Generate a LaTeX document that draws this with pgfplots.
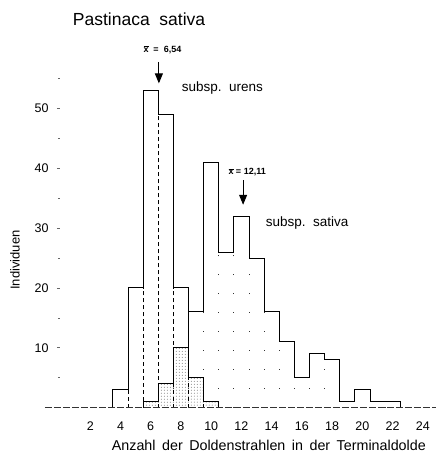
\documentclass[border=0pt]{standalone}
\usepackage{fontspec}
\setmainfont{Liberation Sans}
\usepackage{pgfplots}
\usepackage{pgfplotstable}
\pgfplotsset{compat=1.18}
\usetikzlibrary{patterns,arrows.meta}

% left bin edge, count (const plot mark left)
\pgfplotstableread{
x y
3.5 0
3.5 3
4.5 20
5.5 53
6.5 49
7.5 20
8.5 5
9.5 1
10.5 1
10.5 0
}\urens

\pgfplotstableread{
x y
5.5 0
5.5 1
6.5 4
7.5 10
8.5 16
9.5 41
10.5 26
11.5 32
12.5 25
13.5 16
14.5 11
15.5 5
16.5 9
17.5 8
18.5 1
19.5 3
20.5 1
21.5 1
22.5 1
22.5 0
}\sativa

% overlap of both distributions
\pgfplotstableread{
x y
5.5 0
5.5 1
6.5 4
7.5 10
8.5 5
9.5 1
10.5 1
10.5 0
}\overlap

% inner bin edges
\pgfplotstableread{
x y
4.5 3
5.5 20
6.5 49
7.5 20
8.5 5
9.5 1
}\urensin

\pgfplotstableread{
x y
6.5 1
7.5 4
8.5 10
9.5 16
10.5 26
11.5 26
12.5 25
13.5 16
14.5 11
15.5 5
16.5 5
17.5 8
18.5 1
19.5 1
20.5 1
21.5 1
}\sativain

\newcommand\ws{\hspace{6.5bp}}

\begin{document}
\begin{tikzpicture}
\useasboundingbox (-60bp,-48.5bp) rectangle (379bp,407.5bp);
\begin{axis}[
  scale only axis,
  width=378bp, height=328.9bp,
  xmin=0, xmax=25, ymin=0, ymax=55,
  clip=false,
  axis line style={draw=none},
  xtick={2,4,...,24},
  ytick={10,20,...,50},
  minor ytick={5,15,...,55},
  ytick pos=left,
  x tick style={draw=none},
  y tick style={black!60, line width=0.5bp},
  major tick length=3bp, minor tick length=2bp,
  tick align=outside,
  xticklabel style={anchor=base, inner sep=0pt, yshift=-19.5bp},
  yticklabel style={xshift=-5bp},
  tick label style={font=\fontsize{12.5bp}{14bp}\selectfont},
  /pgf/number format/assume math mode=true,
]
\addplot[draw=none, pattern=dots, pattern color=black!55, const plot mark left] table {\overlap};
\addplot[ycomb, black, dash pattern=on 4bp off 3bp, line width=0.6bp] table {\urensin};
\addplot[ycomb, black!80, dash pattern=on 0.9bp off 18bp, line width=1bp] table {\sativain};
\addplot[const plot mark left, black, line width=0.9bp] table {\urens};
\addplot[const plot mark left, black, line width=0.9bp] table {\sativa};
\draw[black!80, dash pattern=on 7bp off 2bp, line width=0.6bp] (axis cs:-1,0) -- (axis cs:24.9,0);
\draw[-{Triangle[length=10bp,width=8bp]}, line width=1bp] (axis cs:6.54,57.8) -- (axis cs:6.54,54.2);
\draw[-{Triangle[length=10bp,width=8bp]}, line width=1bp] (axis cs:12.11,38.0) -- (axis cs:12.11,33.9);
\end{axis}
\node[anchor=base west, inner sep=0, font=\fontsize{17.5bp}{20bp}\selectfont] at (12.7bp,381.5bp) {Pastinaca\ \ sativa};
\node[anchor=base west, inner sep=0, font=\fontsize{9bp}{10bp}\selectfont\bfseries] at (83.3bp,354.8bp) {$\overline{\mbox{x}}$\ \ =\ \ 6,54};
\node[anchor=base west, inner sep=0, font=\fontsize{13.5bp}{16bp}\selectfont] at (121.7bp,315.5bp) {subsp.\ \ urens};
\node[anchor=base west, inner sep=0, font=\fontsize{9bp}{10bp}\selectfont\bfseries] at (168.3bp,232.5bp) {$\overline{\mbox{x}}$\ =\ 12,11};
\node[anchor=base west, inner sep=0, font=\fontsize{13.5bp}{16bp}\selectfont] at (205.7bp,181bp) {subsp.\ \ sativa};
\node[anchor=base west, inner sep=0, font=\fontsize{14.3bp}{16bp}\selectfont] at (51.7bp,-43bp) {Anzahl\ws der\ws Doldenstrahlen\ws in\ws der\ws Terminaldolde};
\node[anchor=center, inner sep=0, rotate=90, font=\fontsize{13bp}{16bp}\selectfont] at (-45bp,147.5bp) {Individuen};
\end{tikzpicture}
\end{document}
